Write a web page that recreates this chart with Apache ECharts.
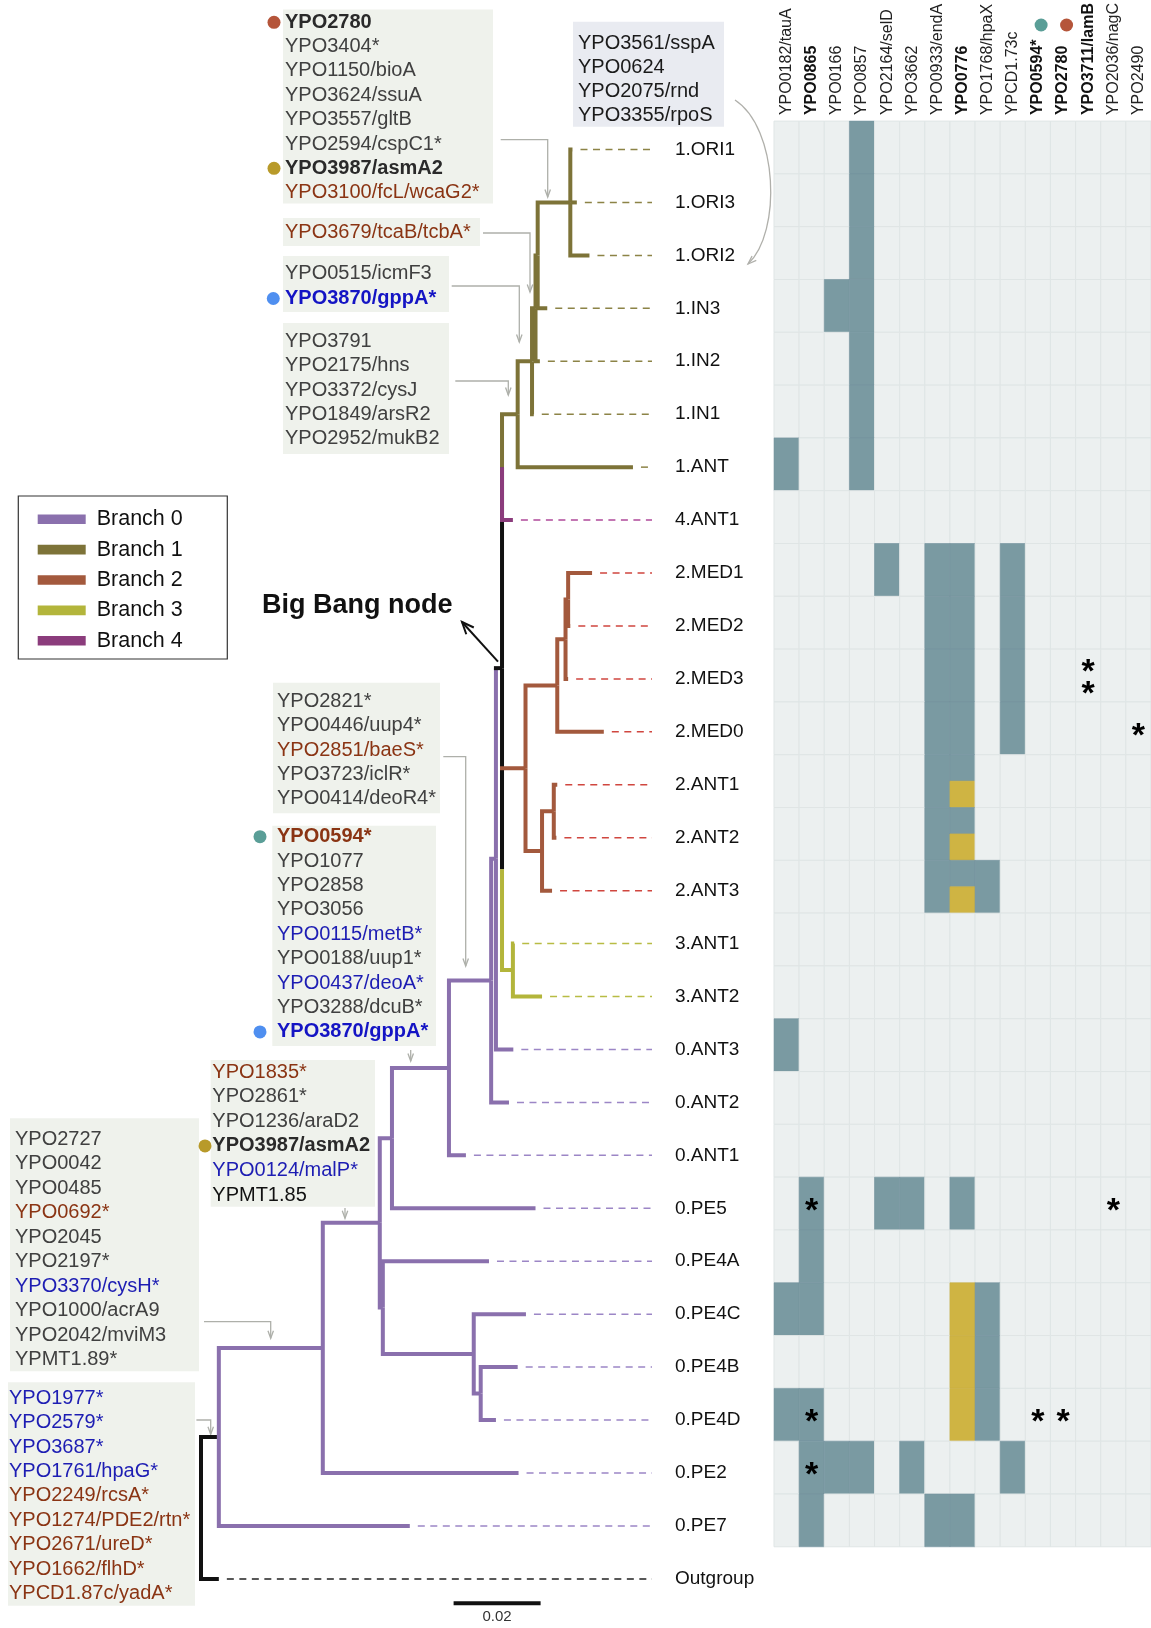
<!DOCTYPE html>
<html>
<head>
<meta charset="utf-8">
<script src="https://cdn.jsdelivr.net/npm/echarts@6/dist/echarts.min.js"></script>
<style>
  html, body { margin: 0; padding: 0; background: #fff; }
  #chart { width: 1151px; height: 1628px; }
</style>
</head>
<body>
<div id="chart"></div>
<script>
// ---------------- data ----------------
// tips of the tree, top to bottom
const tipLabels = ['1.ORI1', '1.ORI3', '1.ORI2', '1.IN3', '1.IN2', '1.IN1', '1.ANT', '4.ANT1',
  '2.MED1', '2.MED2', '2.MED3', '2.MED0', '2.ANT1', '2.ANT2', '2.ANT3', '3.ANT1', '3.ANT2',
  '0.ANT3', '0.ANT2', '0.ANT1', '0.PE5', '0.PE4A', '0.PE4C', '0.PE4B', '0.PE4D', '0.PE2', '0.PE7',
  'Outgroup'];

// tree edges: child, parent, branch length (substitutions/site), lineage, lineage of the vertical elbow
const treeEdges = [
  ['P0', 'root', 0.0041, 'stem'],
  ['P1', 'P0', 0.0239, 'b0'],
  ['P2a', 'P1', 0.0131, 'b0'],
  ['P3', 'P2a', 0.0028, 'b0'],
  ['P4', 'P3', 0.0131, 'b0'],
  ['P5', 'P4', 0.0097, 'b0'],
  ['BB', 'P5', 0.0011, 'b0'],
  ['S', 'BB', 0.0014, 'stem', 'b0'],
  ['X1', 'S', 0.0000, 'stem'],
  ['N4', 'X1', 0.0036, 'b1'],
  ['N3', 'N4', 0.0033, 'b1'],
  ['N2', 'N3', 0.0008, 'b1'],
  ['N1', 'N2', 0.0005, 'b1'],
  ['ORI', 'N1', 0.0075, 'b1'],
  ['1.ORI1', 'ORI', 0.0005, 'b1'],
  ['1.ORI3', 'ORI', 0.0015, 'b1'],
  ['1.ORI2', 'ORI', 0.0044, 'b1'],
  ['1.IN3', 'N1', 0.0022, 'b1'],
  ['1.IN2', 'N2', 0.0010, 'b1'],
  ['1.IN1', 'N3', 0.0004, 'b1'],
  ['1.ANT', 'N4', 0.0265, 'b1'],
  ['4.ANT1', 'X1', 0.0025, 'b4'],
  ['X3', 'S', 0.0000, 'stem'],
  ['B2', 'X3', 0.0054, 'b2', 'stem'],
  ['MED', 'B2', 0.0073, 'b2'],
  ['M1', 'MED', 0.0019, 'b2'],
  ['M2', 'M1', 0.0006, 'b2'],
  ['2.MED1', 'M2', 0.0055, 'b2'],
  ['2.MED2', 'M2', 0.0005, 'b2'],
  ['2.MED3', 'M1', 0.0006, 'b2'],
  ['2.MED0', 'MED', 0.0107, 'b2'],
  ['ANT', 'B2', 0.0038, 'b2'],
  ['A1', 'ANT', 0.0027, 'b2'],
  ['2.ANT1', 'A1', 0.0008, 'b2'],
  ['2.ANT2', 'A1', 0.0006, 'b2'],
  ['2.ANT3', 'ANT', 0.0023, 'b2'],
  ['B3', 'X3', 0.0025, 'b3'],
  ['3.ANT1', 'B3', 0.0003, 'b3'],
  ['3.ANT2', 'B3', 0.0067, 'b3'],
  ['0.ANT3', 'BB', 0.0040, 'b0'],
  ['0.ANT2', 'P5', 0.0041, 'b0'],
  ['0.ANT1', 'P4', 0.0039, 'b0'],
  ['0.PE5', 'P3', 0.0330, 'b0'],
  ['P2b', 'P2a', 0.0007, 'b0'],
  ['0.PE4A', 'P2b', 0.0244, 'b0'],
  ['PE4sub', 'P2b', 0.0209, 'b0'],
  ['0.PE4C', 'PE4sub', 0.0120, 'b0'],
  ['PE4BD', 'PE4sub', 0.0016, 'b0'],
  ['0.PE4B', 'PE4BD', 0.0085, 'b0'],
  ['0.PE4D', 'PE4BD', 0.0035, 'b0'],
  ['0.PE2', 'P1', 0.0450, 'b0'],
  ['0.PE7', 'P0', 0.0439, 'b0'],
  ['Outgroup', 'root', 0.0041, 'stem']
];

const branchNames = ['Branch 0', 'Branch 1', 'Branch 2', 'Branch 3', 'Branch 4'];
const branchKeys = ['b0', 'b1', 'b2', 'b3', 'b4'];

// heatmap columns
const geneColumns = ['YPO0182/tauA', 'YPO0865', 'YPO0166', 'YPO0857', 'YPO2164/selD', 'YPO3662',
  'YPO0933/endA', 'YPO0776', 'YPO1768/hpaX', 'YPCD1.73c', 'YPO0594*', 'YPO2780', 'YPO3711/lamB',
  'YPO2036/nagC', 'YPO2490'];
const boldColumns = ['YPO0865', 'YPO0776', 'YPO0594*', 'YPO2780', 'YPO3711/lamB'];

// one string per heatmap row, one character per column:
// '.' no change, 'T' mutated, 'H' mutated + partly the second state, 'Y' second state
const heatRows = tipLabels.slice(0, 27);
const heatCodes = [
  '...T...........', // 1.ORI1
  '...T...........', // 1.ORI3
  '...T...........', // 1.ORI2
  '..TT...........', // 1.IN3
  '...T...........', // 1.IN2
  '...T...........', // 1.IN1
  'T..T...........', // 1.ANT
  '...............', // 4.ANT1
  '....T.TT.T.....', // 2.MED1
  '......TT.T.....', // 2.MED2
  '......TT.T.....', // 2.MED3
  '......TT.T.....', // 2.MED0
  '......TH.......', // 2.ANT1
  '......TH.......', // 2.ANT2
  '......THT......', // 2.ANT3
  '...............', // 3.ANT1
  '...............', // 3.ANT2
  'T..............', // 0.ANT3
  '...............', // 0.ANT2
  '...............', // 0.ANT1
  '.T..TT.T.......', // 0.PE5
  '.T.............', // 0.PE4A
  'TT.....YT......', // 0.PE4C
  '.......YT......', // 0.PE4B
  'TT.....YT......', // 0.PE4D
  '.TTT.T...T.....', // 0.PE2
  '.T....TT.......'  // 0.PE7
];

// asterisks: row, column, how many
const starMarks = [
  ['2.MED3', 'YPO3711/lamB', 2],
  ['2.MED0', 'YPO2490', 1],
  ['0.PE5', 'YPO0865', 1],
  ['0.PE5', 'YPO2036/nagC', 1],
  ['0.PE4D', 'YPO0865', 1],
  ['0.PE4D', 'YPO0594*', 1],
  ['0.PE4D', 'YPO2780', 1],
  ['0.PE2', 'YPO0865', 1]
];

// gene lists attached to branches
const genesOri = ['YPO2780', 'YPO3404*', 'YPO1150/bioA', 'YPO3624/ssuA', 'YPO3557/gltB', 'YPO2594/cspC1*', 'YPO3987/asmA2', 'YPO3100/fcL/wcaG2*'];
const genesRpoS = ['YPO3561/sspA', 'YPO0624', 'YPO2075/rnd', 'YPO3355/rpoS'];
const genesTca = ['YPO3679/tcaB/tcbA*'];
const genesIcm = ['YPO0515/icmF3', 'YPO3870/gppA*'];
const genesHns = ['YPO3791', 'YPO2175/hns', 'YPO3372/cysJ', 'YPO1849/arsR2', 'YPO2952/mukB2'];
const genesBae = ['YPO2821*', 'YPO0446/uup4*', 'YPO2851/baeS*', 'YPO3723/iclR*', 'YPO0414/deoR4*'];
const genesMetB = ['YPO0594*', 'YPO1077', 'YPO2858', 'YPO3056', 'YPO0115/metB*', 'YPO0188/uup1*', 'YPO0437/deoA*', 'YPO3288/dcuB*', 'YPO3870/gppA*'];
const genesAraD = ['YPO1835*', 'YPO2861*', 'YPO1236/araD2', 'YPO3987/asmA2', 'YPO0124/malP*', 'YPMT1.85'];
const genesAcrA = ['YPO2727', 'YPO0042', 'YPO0485', 'YPO0692*', 'YPO2045', 'YPO2197*', 'YPO3370/cysH*', 'YPO1000/acrA9', 'YPO2042/mviM3', 'YPMT1.89*'];
const genesRoot = ['YPO1977*', 'YPO2579*', 'YPO3687*', 'YPO1761/hpaG*', 'YPO2249/rcsA*', 'YPO1274/PDE2/rtn*', 'YPO2671/ureD*', 'YPO1662/flhD*', 'YPCD1.87c/yadA*'];

const keyGenes = ['YPO2780', 'YPO3987/asmA2', 'YPO3870/gppA*', 'YPO0594*'];
const blueGenes = ['YPO3870/gppA*', 'YPO0115/metB*', 'YPO0437/deoA*', 'YPO0124/malP*', 'YPO3370/cysH*',
  'YPO1977*', 'YPO2579*', 'YPO3687*', 'YPO1761/hpaG*'];
const brownGenes = ['YPO3100/fcL/wcaG2*', 'YPO3679/tcaB/tcbA*', 'YPO2851/baeS*', 'YPO0594*', 'YPO1835*',
  'YPO0692*', 'YPO2249/rcsA*', 'YPO1274/PDE2/rtn*', 'YPO2671/ureD*', 'YPO1662/flhD*', 'YPCD1.87c/yadA*'];
const plasmidGenes = ['YPMT1.85'];

const scaleBarLength = 0.02;

// ---------------- styles & layout ----------------
const FONT = '"Liberation Sans", Arial, Helvetica, sans-serif';
const lineageColor = { stem: '#111111', b0: '#8a70ad', b1: '#7d7338', b2: '#a3593d', b3: '#b3b53b', b4: '#8b3c7c' };
const dashColor = { stem: '#222222', b0: '#9c86c6', b1: '#8c8346', b2: '#d0463f', b3: '#b8bc44', b4: '#b04a9a' };
const dotColor = { 'YPO2780': '#b5553a', 'YPO3987/asmA2': '#b89a2a', 'YPO3870/gppA*': '#4f8ff0', 'YPO0594*': '#5a9e97' };
const cellColor = { empty: '#ecf0f0', T: '#7a9aa2', Y: '#cfb443' };

const ROW_PX = 52.94;
// the tree grid must stay inside the canvas, otherwise its height gets clamped
const TREE = { left: 201, unitPx: 4350, firstTip: 149.5, yMax: 27.9 };
const HEAT = { left: 774, top: 119.3, colW: 25.44, rowH: 52.87 };

// ---------------- tree layout ----------------
const nodes = { root: { children: [], len: 0 } };
treeEdges.forEach(([c, p, len, lin, vlin]) => {
  nodes[c] = nodes[c] || { children: [] };
  nodes[p] = nodes[p] || { children: [] };
  Object.assign(nodes[c], { parent: p, len: len, lin: lin, vlin: vlin || lin });
  nodes[p].children.push(c);
});
const edgeOrder = [];
(function place(name, x) {
  const n = nodes[name];
  n.x = x;
  if (!n.children.length) {
    n.y = tipLabels.indexOf(name);
  } else {
    n.children.forEach(c => { edgeOrder.push(c); place(c, x + nodes[c].len); });
    n.y = (nodes[n.children[0]].y + nodes[n.children[n.children.length - 1]].y) / 2;
  }
})('root', 0);

const tipNames = tipLabels.slice();
const labelX = (675 - TREE.left) / TREE.unitPx;
const dashEnd = (652 - TREE.left) / TREE.unitPx;
const dashGap = 8 / TREE.unitPx;
const scaleBarStart = (453.6 - TREE.left) / TREE.unitPx;
const scaleBarRow = 27.46;

// ---------------- heatmap cells ----------------
const cellData = [];
heatCodes.forEach((row, r) => {
  for (let c = 0; c < geneColumns.length; c++) cellData.push([c, r, row[c]]);
});
const starData = starMarks.map(([row, col, n]) => [geneColumns.indexOf(col), heatRows.indexOf(row), n]);

// ---------------- chart ----------------
const chart = echarts.init(document.getElementById('chart'), null, { renderer: 'canvas', width: 1151, height: 1628 });

const treeSeries = {
  type: 'custom', xAxisIndex: 0, yAxisIndex: 0, clip: false, silent: true, z: 3,
  data: edgeOrder.map(c => [nodes[c].x, nodes[c].y]),
  renderItem(params, api) {
    const n = nodes[edgeOrder[params.dataIndex]];
    const p = nodes[n.parent];
    const a = api.coord([p.x, p.y]);
    const b = api.coord([p.x, n.y]);
    const d = api.coord([n.x, n.y]);
    const w = 4;
    if (n.vlin === n.lin) {
      return { type: 'polyline', shape: { points: [a, b, d] },
        style: { stroke: lineageColor[n.lin], lineWidth: w, fill: null, lineJoin: 'miter' } };
    }
    return { type: 'group', children: [
      { type: 'polyline', shape: { points: [a, b] }, style: { stroke: lineageColor[n.vlin], lineWidth: w, fill: null } },
      { type: 'polyline', shape: { points: [[b[0] - w / 2, b[1]], d] }, style: { stroke: lineageColor[n.lin], lineWidth: w, fill: null } }
    ] };
  }
};

const tipSeries = {
  type: 'custom', xAxisIndex: 0, yAxisIndex: 0, clip: false, silent: true, z: 2,
  data: tipNames.map(t => [nodes[t].x, nodes[t].y]),
  renderItem(params, api) {
    const t = tipNames[params.dataIndex];
    const n = nodes[t];
    const s = api.coord([n.x + dashGap, n.y]);
    const e = api.coord([dashEnd, n.y]);
    const l = api.coord([labelX, n.y]);
    return { type: 'group', children: [
      { type: 'line', shape: { x1: s[0], y1: s[1], x2: e[0], y2: e[1] },
        style: { stroke: dashColor[n.lin], lineWidth: 1.5, lineDash: [7, 5.5] } },
      { type: 'text', style: { x: l[0], y: l[1], text: t, fill: '#111', font: '19px ' + FONT, align: 'left', verticalAlign: 'middle' } }
    ] };
  }
};

const scaleSeries = {
  type: 'custom', xAxisIndex: 0, yAxisIndex: 0, clip: false, silent: true,
  data: [[scaleBarStart, scaleBarRow]],
  renderItem(params, api) {
    const s = api.coord([scaleBarStart, scaleBarRow]);
    const e = api.coord([scaleBarStart + scaleBarLength, scaleBarRow]);
    return { type: 'group', children: [
      { type: 'line', shape: { x1: s[0], y1: s[1], x2: e[0], y2: e[1] }, style: { stroke: '#111', lineWidth: 4 } },
      { type: 'text', style: { x: (s[0] + e[0]) / 2, y: s[1] + 14, text: String(scaleBarLength), fill: '#333',
        font: '15px ' + FONT, align: 'center', verticalAlign: 'middle' } }
    ] };
  }
};

const cellSeries = {
  type: 'custom', xAxisIndex: 1, yAxisIndex: 1, silent: true,
  data: cellData,
  renderItem(params, api) {
    const code = cellData[params.dataIndex][2];
    const c = api.coord([api.value(0), api.value(1)]);
    const sz = api.size([1, 1]);
    const x = c[0] - sz[0] / 2, y = c[1] - sz[1] / 2, w = sz[0], h = sz[1];
    const kids = [];
    if (code === '.') {
      kids.push({ type: 'rect', shape: { x, y, width: w, height: h }, style: { fill: cellColor.empty, stroke: '#dfe5e5', lineWidth: 1 } });
    } else if (code === 'T') {
      kids.push({ type: 'rect', shape: { x, y, width: w, height: h }, style: { fill: cellColor.T, stroke: '#7594a0', lineWidth: 0.6 } });
    } else if (code === 'Y') {
      kids.push({ type: 'rect', shape: { x, y, width: w, height: h }, style: { fill: cellColor.Y, stroke: '#c9ae42', lineWidth: 0.6 } });
    } else if (code === 'H') {
      kids.push({ type: 'rect', shape: { x, y, width: w, height: h / 2 }, style: { fill: cellColor.T, stroke: '#7594a0', lineWidth: 0.6 } });
      kids.push({ type: 'rect', shape: { x, y: y + h / 2, width: w, height: h / 2 }, style: { fill: cellColor.Y, stroke: '#c9ae42', lineWidth: 0.6 } });
    }
    return { type: 'group', children: kids };
  }
};

const starSeries = {
  type: 'custom', xAxisIndex: 1, yAxisIndex: 1, silent: true, z: 5,
  data: starData,
  renderItem(params, api) {
    const c = api.coord([api.value(0), api.value(1)]);
    const n = api.value(2);
    const offs = n === 2 ? [-11, 11] : [0];
    return { type: 'group', children: offs.map(o => ({
      type: 'text', style: { x: c[0], y: c[1] + o + 8, text: '*', fill: '#000', font: 'bold 34px ' + FONT,
        align: 'center', verticalAlign: 'middle' } })) };
  }
};

// ---------------- decorations ----------------
function geneColor(g) {
  if (blueGenes.includes(g)) return keyGenes.includes(g) ? '#1414c4' : '#1d1db3';
  if (brownGenes.includes(g)) return '#8a3413';
  if (plasmidGenes.includes(g)) return '#111';
  return keyGenes.includes(g) ? '#2a2a2a' : '#404040';
}

const boxLayout = [
  { genes: genesOri, x: 283, y: 9.5, w: 210, h: 194, tx: 285, ty: 22.3, lh: 24.34, dotX: 274 },
  { genes: genesRpoS, x: 573, y: 21.7, w: 151, h: 105, tx: 578, ty: 43.3, lh: 24.1, bg: '#e9ebf1', ink: '#1a1a1a' },
  { genes: genesTca, x: 283, y: 218, w: 197, h: 28, tx: 285, ty: 232.5, lh: 24 },
  { genes: genesIcm, x: 283, y: 256, w: 166, h: 56, tx: 285, ty: 273.5, lh: 25, dotX: 273.3 },
  { genes: genesHns, x: 283, y: 323, w: 166, h: 131, tx: 285, ty: 341.7, lh: 24.15 },
  { genes: genesBae, x: 273, y: 682.7, w: 167, h: 130.6, tx: 277, ty: 701.7, lh: 24.2 },
  { genes: genesMetB, x: 272.3, y: 825.7, w: 163.7, h: 220.3, tx: 277, ty: 836.7, lh: 24.4, dotX: 260 },
  { genes: genesAraD, x: 210.7, y: 1060, w: 164.3, h: 146.7, tx: 212.3, ty: 1072.3, lh: 24.55, dotX: 205 },
  { genes: genesAcrA, x: 10, y: 1118.3, w: 189, h: 253, tx: 15, ty: 1139.3, lh: 24.5 },
  { genes: genesRoot, x: 8, y: 1382.3, w: 187, h: 223.4, tx: 9, ty: 1398.3, lh: 24.4 }
];

const pointerPaths = [
  [[500.7, 139.7], [547.7, 139.7], [547.7, 197]],
  [[483, 233], [530, 233], [530, 292]],
  [[451.7, 286], [519.3, 286], [519.3, 342]],
  [[455.3, 381], [508.3, 381], [508.3, 395]],
  [[443.3, 756.7], [465.7, 756.7], [465.7, 966]],
  [[410.7, 1050], [410.7, 1061]],
  [[345, 1208], [345, 1218.3]],
  [[204, 1321.7], [270.7, 1321.7], [270.7, 1338.3]],
  [[196.4, 1420], [210.7, 1420], [210.7, 1434.3]]
];

const graphics = [];
boxLayout.forEach(b => {
  graphics.push({ type: 'rect', silent: true, shape: { x: b.x, y: b.y, width: b.w, height: b.h }, style: { fill: b.bg || '#eff2ec' }, z: 1 });
  b.genes.forEach((g, i) => {
    const y = b.ty + i * b.lh;
    const bold = keyGenes.includes(g);
    graphics.push({ type: 'text', silent: true, z: 2, style: { x: b.tx, y: y, text: g, fill: b.ink || geneColor(g),
      font: (bold ? 'bold ' : '') + '20px ' + FONT, align: 'left', verticalAlign: 'middle' } });
    if (dotColor[g] && b.dotX !== undefined) {
      graphics.push({ type: 'circle', silent: true, z: 3, shape: { cx: b.dotX, cy: y, r: 6.5 }, style: { fill: dotColor[g] } });
    }
  });
});

function arrowHead(tip, from, len, spread) {
  const ang = Math.atan2(tip[1] - from[1], tip[0] - from[0]);
  const p1 = [tip[0] - len * Math.cos(ang - spread), tip[1] - len * Math.sin(ang - spread)];
  const p2 = [tip[0] - len * Math.cos(ang + spread), tip[1] - len * Math.sin(ang + spread)];
  return [p1, tip, p2];
}

pointerPaths.forEach(pts => {
  graphics.push({ type: 'polyline', silent: true, z: 2, shape: { points: pts }, style: { stroke: '#aeb0aa', lineWidth: 1.3, fill: null } });
  graphics.push({ type: 'polyline', silent: true, z: 2, shape: { points: arrowHead(pts[pts.length - 1], pts[pts.length - 2], 8, 0.35) },
    style: { stroke: '#aeb0aa', lineWidth: 1.3, fill: null } });
});

// curved pointer from the stress-response list
const curve = { x1: 735, y1: 100, cpx1: 778, cpy1: 128, cpx2: 782, cpy2: 232, x2: 748, y2: 264 };
graphics.push({ type: 'bezierCurve', silent: true, z: 2, shape: curve, style: { stroke: '#b0b0ab', lineWidth: 1.3, fill: null } });
graphics.push({ type: 'polyline', silent: true, z: 2, shape: { points: arrowHead([curve.x2, curve.y2], [curve.cpx2, curve.cpy2], 9, 0.35) },
  style: { stroke: '#b0b0ab', lineWidth: 1.3, fill: null } });

// legend
graphics.push({ type: 'rect', silent: true, shape: { x: 18.3, y: 496, width: 209, height: 163 }, style: { fill: '#fff', stroke: '#333', lineWidth: 1.2 } });
branchNames.forEach((name, i) => {
  const y = 519.3 + i * 30.35;
  graphics.push({ type: 'rect', silent: true, shape: { x: 37.7, y: y - 4.8, width: 48, height: 9.6 }, style: { fill: lineageColor[branchKeys[i]] } });
  graphics.push({ type: 'text', silent: true, style: { x: 96.7, y: y, text: name, fill: '#111', font: '21.5px ' + FONT, align: 'left', verticalAlign: 'middle' } });
});

// Big Bang node callout
graphics.push({ type: 'text', silent: true, style: { x: 262, y: 605.5, text: 'Big Bang node', fill: '#111', font: 'bold 27px ' + FONT, align: 'left', verticalAlign: 'middle' } });
graphics.push({ type: 'line', silent: true, z: 4, shape: { x1: 498, y1: 661.7, x2: 462, y2: 622 }, style: { stroke: '#111', lineWidth: 2 } });
graphics.push({ type: 'polyline', silent: true, z: 4, shape: { points: arrowHead([462, 622], [498, 661.7], 13, 0.4) }, style: { stroke: '#111', lineWidth: 2, fill: null } });

// markers above two heatmap columns
['YPO0594*', 'YPO2780'].forEach(g => {
  const i = geneColumns.indexOf(g);
  graphics.push({ type: 'circle', silent: true, shape: { cx: HEAT.left + HEAT.colW * (i + 0.5), cy: 25, r: 6.5 }, style: { fill: dotColor[g] } });
});

chart.setOption({
  animation: false,
  backgroundColor: '#ffffff',
  grid: [
    { left: TREE.left, top: TREE.firstTip - ROW_PX / 2, width: TREE.unitPx * 0.2, height: ROW_PX * (TREE.yMax + 0.5) },
    { left: HEAT.left, top: HEAT.top, width: HEAT.colW * geneColumns.length, height: HEAT.rowH * heatRows.length }
  ],
  xAxis: [
    { type: 'value', gridIndex: 0, min: 0, max: 0.2, show: false },
    { type: 'category', gridIndex: 1, data: geneColumns, position: 'top',
      axisLine: { show: false }, axisTick: { show: false }, splitLine: { show: false },
      axisLabel: { interval: 0, rotate: -90, margin: 6, fontSize: 16, fontFamily: FONT, color: '#222',
        formatter: v => boldColumns.includes(v) ? '{b|' + v + '}' : v,
        rich: { b: { fontWeight: 'bold', fontSize: 16, fontFamily: FONT, color: '#111' } } } }
  ],
  yAxis: [
    { type: 'value', gridIndex: 0, min: -0.5, max: TREE.yMax, inverse: true, show: false },
    { type: 'category', gridIndex: 1, data: heatRows, inverse: true, show: false }
  ],
  series: [cellSeries, starSeries, tipSeries, treeSeries, scaleSeries],
  graphic: { elements: graphics }
});
</script>
</body>
</html>
